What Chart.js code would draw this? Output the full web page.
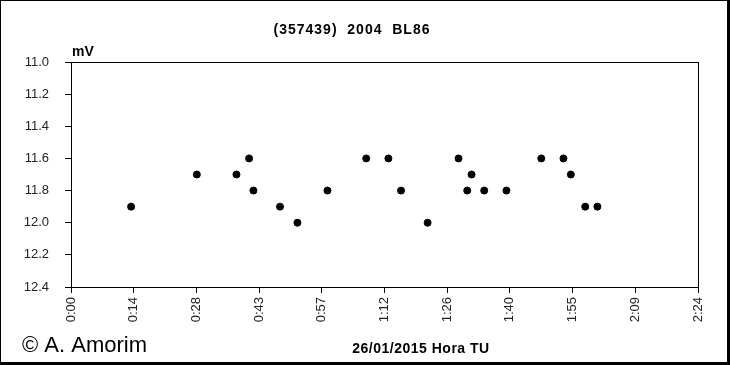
<!DOCTYPE html>
<html>
<head>
<meta charset="utf-8">
<script src="https://cdn.jsdelivr.net/npm/chart.js@4/dist/chart.umd.min.js"></script>
<style>
  html, body { margin: 0; padding: 0; background: #fff; }
  #wrap { width: 730px; height: 365px; position: relative; }
</style>
</head>
<body>
<div id="wrap"><canvas id="chart" width="730" height="365"></canvas></div>
<script>
// -------- datos ----------
// tiempo en minutos desde 0:00 TU
const timesMin = [13.8, 28.9, 38.0, 40.9, 41.9, 48.0, 52.0, 58.9, 67.8, 72.9, 75.8,
                  81.9, 89.0, 91.0, 92.0, 94.9, 100.0, 108.0, 113.1, 114.8, 118.1, 120.9];
const mags     = [11.9, 11.7, 11.7, 11.6, 11.8, 11.9, 12.0, 11.8, 11.6, 11.6, 11.8,
                  12.0, 11.6, 11.8, 11.7, 11.8, 11.8, 11.6, 11.6, 11.7, 11.9, 11.9];

const xTickValues = [0, 14.4, 28.8, 43.2, 57.6, 72, 86.4, 100.8, 115.2, 129.6, 144];
const xTickLabels = ["0:00", "0:14", "0:28", "0:43", "0:57", "1:12", "1:26", "1:40", "1:55", "2:09", "2:24"];

const titleText = "(357439)  2004  BL86";
const yUnit     = "mV";
const xTitle    = "26/01/2015 Hora TU";
const credit    = "\u00A9 A. Amorim";

const FONT = "'Liberation Sans', Arial, sans-serif";

// -------- marco, borde del área y textos ----------
const decor = {
  id: "decor",
  beforeDraw(chart) {
    const c = chart.ctx;
    c.save();
    c.fillStyle = "#fff";
    c.fillRect(0, 0, chart.width, chart.height);
    c.restore();
  },
  afterDraw(chart) {
    const c = chart.ctx;
    const a = chart.chartArea;
    c.save();
    // borde del área de trazado
    c.strokeStyle = "#000";
    c.lineWidth = 1;
    c.strokeRect(Math.round(a.left) + 0.5, Math.round(a.top) + 0.5,
                 Math.round(a.right - a.left), Math.round(a.bottom - a.top));
    // marco exterior (más grueso abajo y a la derecha)
    c.fillStyle = "#000";
    c.fillRect(0, 0, chart.width, 1);
    c.fillRect(0, 0, 1, chart.height);
    c.fillRect(chart.width - 3, 0, 3, chart.height);
    c.fillRect(0, chart.height - 3, chart.width, 3);

    c.fillStyle = "#000";
    c.textBaseline = "middle";
    c.font = "bold 14px " + FONT;
    c.textAlign = "center";
    c.letterSpacing = "1px";
    c.fillText(titleText, 352, 30);
    c.letterSpacing = "0px";

    c.textAlign = "left";
    c.font = "bold 14px " + FONT;
    c.fillText(yUnit, 72, 52);

    c.font = "22px " + FONT;
    c.fillText(credit, 22, 346);

    c.font = "bold 14px " + FONT;
    c.textAlign = "center";
    c.letterSpacing = "0.5px";
    c.fillText(xTitle, 421, 349);
    c.restore();
  }
};

new Chart(document.getElementById("chart"), {
  type: "scatter",
  data: {
    datasets: [{
      data: timesMin.map((t, i) => ({ x: t, y: mags[i] })),
      backgroundColor: "#000",
      borderColor: "#000",
      pointRadius: 3.5,
      pointHoverRadius: 3.5
    }]
  },
  options: {
    responsive: false,
    animation: false,
    layout: { padding: { left: 0, top: 62, right: 32, bottom: 0 } },
    plugins: { legend: { display: false }, tooltip: { enabled: false } },
    scales: {
      x: {
        type: "linear",
        min: 0, max: 144,
        afterBuildTicks: (s) => { s.ticks = xTickValues.map(v => ({ value: v })); },
        afterFit: (s) => { s.height = 78; },
        grid: { drawOnChartArea: false, drawTicks: true, tickLength: 6, color: "#000" },
        border: { display: true, color: "#000" },
        ticks: {
          minRotation: 90, maxRotation: 90, padding: 4,
          color: "#222",
          font: { family: FONT, size: 13 },
          callback: (v, i) => xTickLabels[i]
        }
      },
      y: {
        reverse: true,
        min: 11.0, max: 12.4,
        afterFit: (s) => { s.width = 71; },
        grid: { drawOnChartArea: false, drawTicks: true, tickLength: 6, color: "#000" },
        border: { display: true, color: "#000" },
        ticks: {
          stepSize: 0.2, padding: 16,
          color: "#222",
          font: { family: FONT, size: 13 },
          callback: (v) => v.toFixed(1)
        }
      }
    }
  },
  plugins: [decor]
});
</script>
</body>
</html>
